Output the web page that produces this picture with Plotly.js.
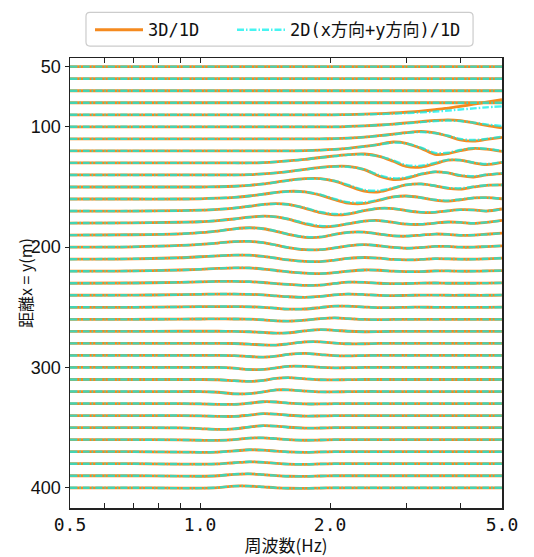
<!DOCTYPE html>
<html><head><meta charset="utf-8">
<script src="https://cdn.plot.ly/plotly-3.0.1.min.js"></script>
<style>html,body{margin:0;padding:0;background:#fff}#chart{width:534px;height:557px}</style>
</head><body><div id="chart"></div>
<script>
const freqs = [0.5,0.7,0.9,1.0,1.1,1.2,1.3,1.4,1.5,1.6,1.75,1.9,2.05,2.2,2.4,2.6,2.8,3.0,3.25,3.5,3.75,4.0,4.3,4.6,5.0];
const distances = [50,60,70,80,90,100,110,120,130,140,150,160,170,180,190,200,210,220,230,240,250,260,270,280,290,300,310,320,330,340,350,360,370,380,390,400];
const xTickVals = [0.5,0.6,0.7,0.8,0.9,1,2,3,4,5];
const xTickText = ['0.5','','','','','1.0','2.0','','','5.0'];
const yTickVals = [50,100,200,300,400];
const legendNames = ['3D/1D','2D(x方向+y方向)/1D'];
const xTitle = '周波数(Hz)';
const yTitle = '距離x = y(m)';

// upward offset (m) of each ratio curve from its distance baseline
const dev3D = [
[0,0,0,0,0,0,0,0,0,0,0,0,0,0,0,0,0,0,0,0,0,0,0,0,0],
[0,0,0,0,0,0,0,0,0,0,0,0,0,0,0,0,0,0,0,0,0,0,0,0,0],
[0,0,0,0,0,0,0,0,0,0,0,0,0,0,0,0,0,0,0,0,0,0,0,0,0],
[0,0,0,0,0,0,0,0,0,0,0,0,0,0,0,0,0,0,0,0,0,0,0,0,0],
[0,0,0,0,0,0,0,0,0,0,0,0,0,0.2,0.6,1.0,1.5,2.1,3.0,4.2,5.6,7.0,8.8,10.5,12.5],
[0,0,0,0,0,0,0,0,0,0,0,0,0,0.3,0.8,1.5,2.3,3.2,4.3,5.3,5.8,5.2,3.3,1.2,-0.8],
[0,0,0,0,0,0,0,0,0,0,0,0,0.2,0.6,1.4,2.6,3.9,5.2,6.2,5.0,2.3,-0.8,-1.8,-0.5,1.2],
[0,0,0,0,0,0,0,0,0,0,0.2,0.6,1.2,2.1,3.7,5.5,7.4,6.3,2.1,-2.9,-2.3,0.2,2.0,1.4,-0.5],
[0,0,0,0,0,0,0,0.3,0.9,1.7,3.0,4.5,5.8,6.9,7.4,5.5,1.4,-2.9,-3.4,-0.6,2.3,2.3,0,-1.4,0.5],
[0,0,0,0,0,0,0.3,0.9,1.7,2.8,4.6,6.3,7.2,7.1,4.4,-1.1,-3.8,-2.9,0.6,2.6,1.7,-0.6,-1.7,0,1.1],
[0,0,0,0,0.2,0.6,1.4,2.5,4.0,5.5,6.9,6.9,4.8,1.1,-3.4,-4.0,-1.1,1.7,2.6,0.9,-1.1,-1.7,0,1.4,1.7],
[0,0,0,0.2,0.7,1.4,2.5,4.0,5.5,6.4,6.0,3.2,-0.6,-3.4,-3.7,-0.9,1.7,2.5,1.1,-0.9,-1.7,-0.6,0.9,1.1,0.2],
[0,0,0.3,0.7,1.4,2.5,4.0,5.5,6.2,5.5,2.3,-1.4,-3.2,-2.5,0.3,2.3,2.1,0.3,-1.1,-1.1,0.2,1.1,0.9,0,1.7],
[0,0.2,0.7,1.1,2.1,3.4,4.9,5.7,5.2,3.2,-0.6,-2.9,-2.6,-0.6,1.7,2.1,0.6,-0.9,-1.1,0,0.9,0.6,-0.3,0.6,2.3],
[0,0.3,1.1,2.1,3.4,5.2,6.1,5.3,3.2,0.6,-1.8,-1.7,0.6,2.3,2.5,0.9,-0.6,-0.9,0,0.9,0.6,-0.2,0,0.7,1.7],
[0,0.3,1.4,2.3,3.4,4.6,4.8,3.7,1.7,-0.3,-2.1,-2.1,-0.6,1.1,2.1,1.1,-0.2,-0.9,-0.3,0.6,0.6,0,0,0.5,1.1],
[0,0.3,1.2,2.0,2.8,3.4,3.3,2.3,0.8,-0.6,-1.9,-2.0,-0.8,0.6,1.4,0.8,-0.2,-0.6,-0.2,0.4,0.3,0,0,0.3,0.8],
[0,0.2,1.0,1.6,2.3,2.8,2.7,1.8,0.6,-0.5,-1.6,-2.0,-1.2,0,1.0,0.8,0,-0.4,-0.3,0.2,0.3,0,0,0.2,0.5],
[0,0.2,0.8,1.2,1.5,1.6,1.3,0.6,-0.3,-1.0,-1.8,-1.5,-0.2,0.9,0.8,0,-0.4,-0.2,0.1,0.2,0,0,0,0.1,0.3],
[0,0.1,0.5,0.8,1.0,1.0,0.8,0.3,-0.5,-1.2,-1.7,-1.0,0.4,1.0,0.6,-0.1,-0.3,-0.1,0.1,0.1,0,0,0,0,0.2],
[0,0,0.3,0.5,0.6,0.6,0.4,0,-0.8,-1.5,-1.4,-0.2,1.0,0.9,0.2,-0.3,-0.2,0,0.1,0,0,0,0,0,0.1],
[0,0,0.2,0.3,0.4,0.3,0.1,-0.4,-1.2,-1.5,-0.7,0.6,1.2,0.6,-0.1,-0.3,-0.1,0,0,0,0,0,0,0,0],
[0,0,0.1,0.1,0.1,0,-0.3,-0.9,-1.5,-1.2,0.4,1.4,0.9,0.1,-0.3,-0.2,0,0,0,0,0,0,0,0,0],
[0,0,0,0,0,-0.1,-0.6,-1.3,-1.4,-0.4,1.2,1.3,0.3,-0.3,-0.3,0,0,0,0,0,0,0,0,0,0],
[0,0,0,0,0,-0.2,-0.9,-1.4,-0.6,0.8,1.7,0.7,-0.2,-0.4,-0.1,0,0,0,0,0,0,0,0,0,0],
[0,0,0,0,0,-0.6,-1.7,-1.6,-0.3,0.9,0.9,0.1,-0.3,-0.2,0,0,0,0,0,0,0,0,0,0,0],
[0,0,0,0,-0.2,-1.0,-1.6,-0.8,0.9,1.5,0.6,-0.2,-0.3,-0.1,0,0,0,0,0,0,0,0,0,0,0],
[0,0,0,0,-0.6,-1.9,-1.8,-0.3,1.3,1.4,0.4,-0.3,-0.3,-0.1,0,0,0,0,0,0,0,0,0,0,0],
[0,0,0,-0.2,-0.6,-0.7,0.3,1.5,1.3,0.4,-0.3,-0.3,-0.1,0,0,0,0,0,0,0,0,0,0,0,0],
[0,0,0,-0.2,-0.6,-0.7,0.4,1.6,1.2,0.3,-0.4,-0.3,-0.1,0,0,0,0,0,0,0,0,0,0,0,0],
[0,0,-0.2,-0.8,-1.5,-1.0,0.5,1.6,1.2,0.3,-0.4,-0.3,0,0,0,0,0,0,0,0,0,0,0,0,0],
[0,0,-0.2,-0.5,-0.6,0,1.3,1.5,0.8,0,-0.5,-0.3,0,0,0,0,0,0,0,0,0,0,0,0,0],
[0,0,-0.3,-0.5,-0.3,0.6,1.6,1.3,0.5,-0.2,-0.5,-0.2,0,0,0,0,0,0,0,0,0,0,0,0,0],
[0,0,-0.3,-0.4,-0.2,0.8,1.6,1.2,0.3,-0.3,-0.5,-0.2,0,0,0,0,0,0,0,0,0,0,0,0,0],
[0,0,-0.3,-0.4,0,1.2,1.6,0.9,0.1,-0.4,-0.5,-0.2,0,0,0,0,0,0,0,0,0,0,0,0,0],
[0,0,-0.3,-0.3,0.2,1.4,1.4,0.7,0,-0.4,-0.5,-0.2,0,0,0,0,0,0,0,0,0,0,0,0,0]
];

const dev2D = [
[0,0,0,0,0,0,0,0,0,0,0,0,0,0,0,0,0,0,0,0,0,0,0,0,0],
[0,0,0,0,0,0,0,0,0,0,0,0,0,0,0,0,0,0,0,0,0,0,0,0,0],
[0,0,0,0,0,0,0,0,0,0,0,0,0,0,0,0,0,0,0,0,0,0,0,0,0],
[0,0,0,0,0,0,0,0,0,0,0,0,0,0,0,0,0,0,0,0,0,0,0,0,0],
[0,0,0,0,0,0,0,0,0,0,0,0,0,0.1,0.4,0.6,1.0,1.4,2.0,2.7,3.5,4.4,5.3,6.2,7.0],
[0,0,0,0,0,0,0,0,0,0,0,0,0,0.3,0.8,1.4,2.1,2.9,3.9,4.8,5.2,4.8,3.5,2.0,0.6],
[0,0,0,0,0,0,0,0,0,0,0,0,0.2,0.6,1.4,2.5,3.7,4.9,5.7,4.8,2.6,0,-1.0,0,1.8],
[0,0,0,0,0,0,0,0,0,0,0.2,0.6,1.2,2.1,3.6,5.3,6.9,6.1,2.6,-1.7,-1.5,0.7,2.3,1.7,0],
[0,0,0,0,0,0,0,0.3,0.9,1.7,3.0,4.4,5.6,6.7,7.0,5.5,2.1,-1.8,-2.3,0,2.5,2.3,0.3,-0.9,0.7],
[0,0,0,0,0,0,0.3,0.9,1.7,2.8,4.5,6.1,6.9,6.8,4.6,-0.3,-2.8,-2.1,0.9,2.6,1.7,-0.2,-1.1,0.2,1.4],
[0,0,0,0,0.2,0.6,1.4,2.5,3.9,5.3,6.7,6.7,5.1,1.7,-2.5,-3.0,-0.7,1.8,2.5,1.0,-0.7,-1.1,0.2,1.4,1.6],
[0,0,0,0.2,0.7,1.4,2.5,4.0,5.4,6.2,5.9,3.6,0,-2.6,-2.9,-0.6,1.7,2.4,1.1,-0.6,-1.3,-0.3,0.9,1.1,0.3],
[0,0,0.3,0.7,1.4,2.5,4.0,5.4,6.0,5.4,2.6,-0.8,-2.5,-2.1,0.5,2.2,2.0,0.5,-0.9,-0.9,0.2,1.0,0.8,0.1,1.5],
[0,0.2,0.7,1.1,2.1,3.4,4.8,5.6,5.2,3.4,-0.1,-2.3,-2.3,-0.5,1.6,2.0,0.6,-0.7,-0.9,0,0.8,0.6,-0.2,0.6,2.1],
[0,0.3,1.1,2.1,3.4,5.1,6.0,5.3,3.3,0.8,-1.5,-1.5,0.6,2.2,2.4,0.9,-0.5,-0.8,0,0.8,0.6,-0.1,0,0.6,1.6],
[0,0.3,1.4,2.3,3.4,4.6,4.8,3.7,1.7,-0.3,-2.1,-2.1,-0.6,1.1,2.1,1.1,-0.2,-0.9,-0.3,0.6,0.6,0,0,0.5,1.1],
[0,0.3,1.2,2.0,2.8,3.4,3.3,2.3,0.8,-0.6,-1.9,-2.0,-0.8,0.6,1.4,0.8,-0.2,-0.6,-0.2,0.4,0.3,0,0,0.3,0.8],
[0,0.2,1.0,1.6,2.3,2.8,2.7,1.8,0.6,-0.5,-1.6,-2.0,-1.2,0,1.0,0.8,0,-0.4,-0.3,0.2,0.3,0,0,0.2,0.5],
[0,0.2,0.8,1.2,1.5,1.6,1.3,0.6,-0.3,-1.0,-1.8,-1.5,-0.2,0.9,0.8,0,-0.4,-0.2,0.1,0.2,0,0,0,0.1,0.3],
[0,0.1,0.5,0.8,1.0,1.0,0.8,0.3,-0.5,-1.2,-1.7,-1.0,0.4,1.0,0.6,-0.1,-0.3,-0.1,0.1,0.1,0,0,0,0,0.2],
[0,0,0.3,0.5,0.6,0.6,0.4,0,-0.8,-1.5,-1.4,-0.2,1.0,0.9,0.2,-0.3,-0.2,0,0.1,0,0,0,0,0,0.1],
[0,0,0.2,0.3,0.4,0.3,0.1,-0.4,-1.2,-1.5,-0.7,0.6,1.2,0.6,-0.1,-0.3,-0.1,0,0,0,0,0,0,0,0],
[0,0,0.1,0.1,0.1,0,-0.3,-0.9,-1.5,-1.2,0.4,1.4,0.9,0.1,-0.3,-0.2,0,0,0,0,0,0,0,0,0],
[0,0,0,0,0,-0.1,-0.6,-1.3,-1.4,-0.4,1.2,1.3,0.3,-0.3,-0.3,0,0,0,0,0,0,0,0,0,0],
[0,0,0,0,0,-0.2,-0.9,-1.4,-0.6,0.8,1.7,0.7,-0.2,-0.4,-0.1,0,0,0,0,0,0,0,0,0,0],
[0,0,0,0,0,-0.6,-1.7,-1.6,-0.3,0.9,0.9,0.1,-0.3,-0.2,0,0,0,0,0,0,0,0,0,0,0],
[0,0,0,0,-0.2,-1.0,-1.6,-0.8,0.9,1.5,0.6,-0.2,-0.3,-0.1,0,0,0,0,0,0,0,0,0,0,0],
[0,0,0,0,-0.6,-1.9,-1.8,-0.3,1.3,1.4,0.4,-0.3,-0.3,-0.1,0,0,0,0,0,0,0,0,0,0,0],
[0,0,0,-0.2,-0.6,-0.7,0.3,1.5,1.3,0.4,-0.3,-0.3,-0.1,0,0,0,0,0,0,0,0,0,0,0,0],
[0,0,0,-0.2,-0.6,-0.7,0.4,1.6,1.2,0.3,-0.4,-0.3,-0.1,0,0,0,0,0,0,0,0,0,0,0,0],
[0,0,-0.2,-0.8,-1.5,-1.0,0.5,1.6,1.2,0.3,-0.4,-0.3,0,0,0,0,0,0,0,0,0,0,0,0,0],
[0,0,-0.2,-0.5,-0.6,0,1.3,1.5,0.8,0,-0.5,-0.3,0,0,0,0,0,0,0,0,0,0,0,0,0],
[0,0,-0.3,-0.5,-0.3,0.6,1.6,1.3,0.5,-0.2,-0.5,-0.2,0,0,0,0,0,0,0,0,0,0,0,0,0],
[0,0,-0.3,-0.4,-0.2,0.8,1.6,1.2,0.3,-0.3,-0.5,-0.2,0,0,0,0,0,0,0,0,0,0,0,0,0],
[0,0,-0.3,-0.4,0,1.2,1.6,0.9,0.1,-0.4,-0.5,-0.2,0,0,0,0,0,0,0,0,0,0,0,0,0],
[0,0,-0.3,-0.3,0.2,1.4,1.4,0.7,0,-0.4,-0.5,-0.2,0,0,0,0,0,0,0,0,0,0,0,0,0]
];

const traces = [];
distances.forEach((d, i) => {
  traces.push({
    x: freqs, y: dev3D[i].map(v => d - v), type: 'scatter', mode: 'lines',
    name: legendNames[0], legend: 'legend', showlegend: i === 0, hoverinfo: 'skip',
    line: {color: '#F58A1F', width: 2.8, shape: 'spline', smoothing: 0.9}
  });
});
distances.forEach((d, i) => {
  traces.push({
    x: freqs, y: dev2D[i].map(v => d - v), type: 'scatter', mode: 'lines',
    name: legendNames[1], legend: 'legend2', showlegend: i === 0, hoverinfo: 'skip',
    line: {color: 'rgba(0,240,235,0.72)', width: 2.4, dash: '7px,2px,1.5px,2px', shape: 'spline', smoothing: 0.9}
  });
});

// legend frame (paper coordinates)
const bx0 = 0.037, bx1 = 0.933, by0 = 1.0265, by1 = 1.1015, rx = 0.009, ry = 0.009;
const framePath = 'M' + (bx0+rx) + ',' + by0 + ' L' + (bx1-rx) + ',' + by0 + ' Q' + bx1 + ',' + by0 + ' ' + bx1 + ',' + (by0+ry) +
  ' L' + bx1 + ',' + (by1-ry) + ' Q' + bx1 + ',' + by1 + ' ' + (bx1-rx) + ',' + by1 +
  ' L' + (bx0+rx) + ',' + by1 + ' Q' + bx0 + ',' + by1 + ' ' + bx0 + ',' + (by1-ry) +
  ' L' + bx0 + ',' + (by0+ry) + ' Q' + bx0 + ',' + by0 + ' ' + (bx0+rx) + ',' + by0 + ' Z';

const legendFont = {family: 'DejaVu Sans Mono, Noto Sans CJK JP, monospace', size: 17, color: '#111'};
const layout = {
  width: 534, height: 557,
  margin: {l: 70, r: 32, t: 55, b: 49},
  paper_bgcolor: '#ffffff', plot_bgcolor: '#ffffff',
  showlegend: true,
  legend: {orientation: 'h', x: 0.0463, xanchor: 'left', y: 1.0618, yanchor: 'middle', itemwidth: 48,
    borderwidth: 0, bgcolor: 'rgba(0,0,0,0)', font: legendFont},
  legend2: {orientation: 'h', x: 0.375, xanchor: 'left', y: 1.0618, yanchor: 'middle', itemwidth: 48,
    borderwidth: 0, bgcolor: 'rgba(0,0,0,0)', font: legendFont},
  shapes: [{type: 'path', xref: 'paper', yref: 'paper', path: framePath,
    line: {color: '#cccccc', width: 1.2}, fillcolor: 'rgba(255,255,255,0)', layer: 'below'}],
  annotations: [{text: yTitle, xref: 'paper', yref: 'paper', x: -0.104, y: 0.5, xanchor: 'center', yanchor: 'middle',
    textangle: -90, showarrow: false, font: {family: 'Noto Sans CJK JP, sans-serif', size: 16, color: '#111'}}],
  xaxis: {
    type: 'log', range: [Math.log10(0.5), Math.log10(5)],
    tickmode: 'array', tickvals: xTickVals, ticktext: xTickText,
    ticks: 'inside', ticklen: 5, tickwidth: 1, tickcolor: '#222',
    showline: true, linecolor: '#222', linewidth: 1.5, mirror: 'ticks',
    showgrid: false, zeroline: false,
    tickfont: {family: 'DejaVu Sans Mono, monospace', size: 18, color: '#111'},
    title: {text: xTitle, font: {family: 'Noto Sans CJK JP, sans-serif', size: 17, color: '#111'}, standoff: 6}
  },
  yaxis: {
    range: [416.8, 42.8], autorange: false,
    tickmode: 'array', tickvals: yTickVals,
    ticks: 'outside', ticklen: 4, tickwidth: 1, tickcolor: '#222',
    showline: true, linecolor: '#222', linewidth: 1.5, mirror: true,
    showgrid: false, zeroline: false,
    tickfont: {family: 'Liberation Sans, Arial, sans-serif', size: 18, color: '#111'}
  }
};

Plotly.newPlot('chart', traces, layout, {staticPlot: true, displayModeBar: false});
</script>
</body></html>
